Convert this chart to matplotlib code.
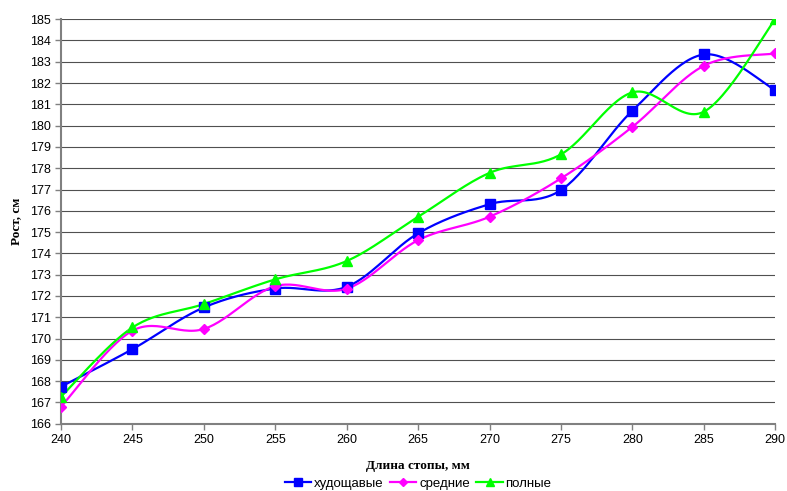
import numpy as np
import matplotlib
matplotlib.use('Agg')
import matplotlib.pyplot as plt

# данные
foot = [240, 245, 250, 255, 260, 265, 270, 275, 280, 285, 290]
thin = [167.74, 169.5, 171.46, 172.35, 172.43, 174.94, 176.31, 176.97, 180.7, 183.34, 181.67]
middle = [166.8, 170.37, 170.45, 172.46, 172.34, 174.62, 175.72, 177.52, 179.94, 182.81, 183.39]
full = [167.27, 170.52, 171.62, 172.78, 173.64, 175.72, 177.78, 178.65, 181.56, 180.65, 185.0]

labels = ['худощавые', 'средние', 'полные']
colors = ['#0000FF', '#FF00FF', '#00FF00']
markers = ['s', 'D', '^']
msizes = [6.5, 5.5, 7]


# сглаживание как в Excel (кривые Безье)
def smooth(x, y, n=30):
    x = np.asarray(x, float)
    y = np.asarray(y, float)
    px = np.concatenate([[x[0]], x, [x[-1]]])
    py = np.concatenate([[y[0]], y, [y[-1]]])
    xs, ys = [], []
    t = np.linspace(0, 1, n)
    for i in range(len(x) - 1):
        p0 = np.array([px[i + 1], py[i + 1]])
        p3 = np.array([px[i + 2], py[i + 2]])
        p1 = p0 + (np.array([px[i + 2], py[i + 2]]) - np.array([px[i], py[i]])) / 6
        p2 = p3 - (np.array([px[i + 3], py[i + 3]]) - np.array([px[i + 1], py[i + 1]])) / 6
        b = ((1 - t) ** 3)[:, None] * p0 + (3 * (1 - t) ** 2 * t)[:, None] * p1 \
            + (3 * (1 - t) * t ** 2)[:, None] * p2 + (t ** 3)[:, None] * p3
        xs.extend(b[:, 0])
        ys.extend(b[:, 1])
    return np.array(xs), np.array(ys)


fig = plt.figure(figsize=(7.87, 4.91), dpi=100)
ax = fig.add_axes([0.0775, 0.137, 0.9075, 0.824])

for i, data in enumerate([thin, middle, full]):
    sx, sy = smooth(foot, data)
    ax.plot(sx, sy, color=colors[i], lw=1.6, zorder=3)
    ax.plot(foot, data, linestyle='none', marker=markers[i], color=colors[i],
            markersize=msizes[i], zorder=4)
    # для легенды
    ax.plot([], [], color=colors[i], lw=1.6, marker=markers[i],
            markersize=msizes[i] - 1, label=labels[i])

ax.set_xlim(240, 290)
ax.set_ylim(166, 185)
ax.set_xticks(range(240, 291, 5))
ax.set_yticks(range(166, 186))
ax.yaxis.grid(True, color='#505050', lw=0.8)
ax.set_axisbelow(True)

for s in ['top', 'right']:
    ax.spines[s].set_visible(False)
ax.spines['left'].set_color('#808080')
ax.spines['left'].set_linewidth(1.5)
ax.spines['bottom'].set_color('#808080')
ax.spines['bottom'].set_linewidth(1.5)
ax.tick_params(axis='both', colors='#808080', labelcolor='black', length=4,
               labelsize=9, width=1)
for lab in ax.get_xticklabels() + ax.get_yticklabels():
    lab.set_family('Liberation Sans')

ax.set_xlabel('Длина стопы, мм', family='Liberation Serif', fontweight='bold',
              fontsize=9.5, labelpad=10)
ax.set_ylabel('Рост, см', family='Liberation Serif', fontweight='bold',
              fontsize=9.5, labelpad=5)

leg = ax.legend(loc='center', bbox_to_anchor=(0.5, -0.148), ncol=3,
                frameon=False, prop={'family': 'Liberation Sans', 'size': 9.5},
                handlelength=2.0, columnspacing=0.5, handletextpad=0.2)

plt.savefig('out.png', dpi=100)
